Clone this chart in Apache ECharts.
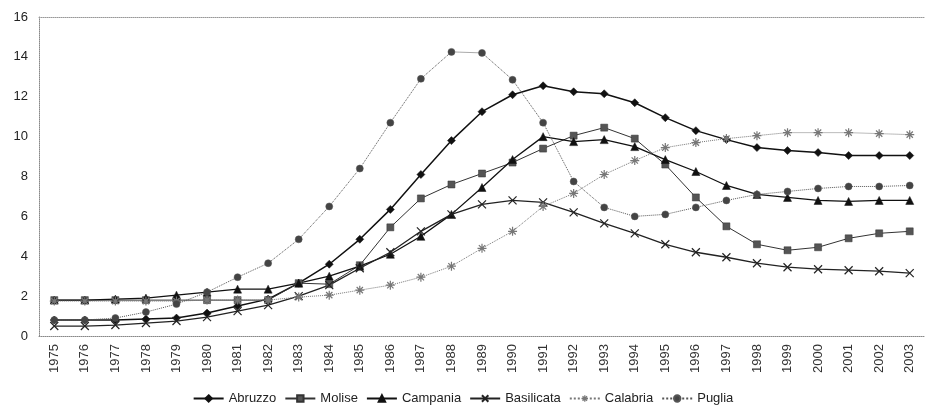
<!DOCTYPE html>
<html>
<head>
<meta charset="utf-8">
<script src="https://cdn.jsdelivr.net/npm/echarts@6/dist/echarts.min.js"></script>
<style>
  html, body { margin: 0; padding: 0; background: #fff; }
  #chart { width: 926px; height: 416px; }
</style>
</head>
<body>
<div id="chart"></div>
<script>
var years = ['1975','1976','1977','1978','1979','1980','1981','1982','1983','1984','1985','1986','1987','1988','1989',
  '1990','1991','1992','1993','1994','1995','1996','1997','1998','1999','2000','2001','2002','2003'];

var abruzzo    = [0.8,0.8,0.8,0.85,0.9,1.15,1.5,1.85,2.65,3.6,4.85,6.35,8.1,9.8,11.25,12.1,12.55,12.25,12.15,11.7,10.95,10.3,9.85,9.45,9.3,9.2,9.05,9.05,9.05];
var molise     = [1.8,1.8,1.8,1.8,1.8,1.8,1.8,1.8,2.65,2.6,3.55,5.45,6.9,7.6,8.15,8.7,9.4,10.05,10.45,9.9,8.6,6.95,5.5,4.6,4.3,4.45,4.9,5.15,5.25];
var campania   = [1.8,1.8,1.85,1.9,2.05,2.2,2.35,2.35,2.65,3.0,3.5,4.1,5.0,6.1,7.45,8.85,10.0,9.75,9.85,9.5,8.85,8.25,7.55,7.1,6.95,6.8,6.75,6.8,6.8];
var basilicata = [0.5,0.5,0.55,0.65,0.75,0.95,1.25,1.55,2.0,2.55,3.4,4.2,5.25,6.1,6.6,6.8,6.7,6.2,5.65,5.15,4.6,4.2,3.95,3.65,3.45,3.35,3.3,3.25,3.15];
var calabria   = [1.75,1.75,1.75,1.75,1.75,1.8,1.8,1.8,1.95,2.05,2.3,2.55,2.95,3.5,4.4,5.25,6.5,7.15,8.1,8.8,9.45,9.7,9.9,10.05,10.2,10.2,10.2,10.15,10.1];
var puglia     = [0.8,0.8,0.9,1.2,1.6,2.2,2.95,3.65,4.85,6.5,8.4,10.7,12.9,14.25,14.2,12.85,10.7,7.75,6.45,6.0,6.1,6.45,6.8,7.1,7.25,7.4,7.5,7.5,7.55];

// simboli non disponibili in echarts: croce e asterisco
var crossSym = 'path://M0,0 L10,10 M10,0 L0,10';
var starSym = 'path://M5,0 L5,10 M0,5 L10,5 M1.5,1.5 L8.5,8.5 M8.5,1.5 L1.5,8.5';

function serie(name, data, opt) {
  return {
    name: name,
    type: 'line',
    data: data,
    symbol: opt.symbol,
    symbolSize: opt.size,
    showAllSymbol: true,
    animation: false,
    lineStyle: { color: opt.color, width: opt.width, type: opt.type || 'solid' },
    itemStyle: opt.open
      ? { color: '#fff', borderColor: opt.color, borderWidth: 1.2, borderType: 'solid' }
      : { color: opt.fill || opt.color, borderColor: opt.color, borderWidth: 0.5, borderType: 'solid' }
  };
}

var chart = echarts.init(document.getElementById('chart'));
chart.setOption({
  backgroundColor: '#fff',
  textStyle: { fontFamily: 'Liberation Sans, Arial, sans-serif' },
  grid: { left: 39, right: 1, top: 17, bottom: 80 },
  legend: {
    bottom: 6,
    left: 'center',
    itemWidth: 30,
    itemHeight: 8,
    itemGap: 8,
    textStyle: { fontSize: 13, color: '#222' },
    data: [
      'Abruzzo', 'Molise', 'Campania', 'Basilicata',
      { name: 'Calabria', itemStyle: { borderType: 'solid', borderWidth: 1.2 } },
      { name: 'Puglia', itemStyle: { borderType: 'solid' } }
    ]
  },
  xAxis: [{
    type: 'category',
    data: years,
    boundaryGap: true,
    axisLine: { lineStyle: { color: '#888', type: 'dotted', width: 1 } },
    axisTick: { show: false },
    axisLabel: { rotate: 90, fontSize: 13, color: '#333', margin: 8 }
  }, {
    type: 'category',
    data: years,
    position: 'top',
    axisLine: { lineStyle: { color: '#999', type: 'dotted', width: 1 } },
    axisTick: { show: false },
    axisLabel: { show: false }
  }],
  yAxis: {
    type: 'value',
    min: 0,
    max: 16,
    interval: 2,
    axisLine: { show: true, lineStyle: { color: '#888', type: 'dotted', width: 1 } },
    axisTick: { show: false },
    splitLine: { show: false },
    axisLabel: { fontSize: 13, color: '#222', margin: 11 }
  },
  series: [
    serie('Abruzzo', abruzzo, { symbol: 'diamond', size: 8, color: '#111', width: 1.5 }),
    serie('Molise', molise, { symbol: 'rect', size: 7, color: '#333', fill: '#555', width: 1 }),
    serie('Campania', campania, { symbol: 'triangle', size: 8, color: '#111', width: 1.3 }),
    serie('Basilicata', basilicata, { symbol: crossSym, size: 8, color: '#222', width: 1.3, open: true }),
    serie('Calabria', calabria, { symbol: starSym, size: 9, color: '#777', width: 1, type: 'dotted', open: true }),
    serie('Puglia', puglia, { symbol: 'circle', size: 7, color: '#555', fill: '#444', width: 1, type: 'dotted' })
  ]
});
</script>
</body>
</html>
